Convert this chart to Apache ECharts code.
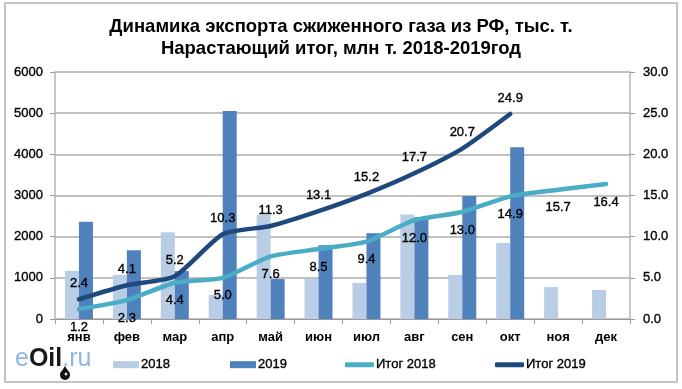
<!DOCTYPE html>
<html><head><meta charset="utf-8">
<style>html,body{margin:0;padding:0;background:#fff}#c{width:682px;height:389px}</style>
<script src="https://cdn.jsdelivr.net/npm/echarts@6/dist/echarts.min.js"></script>
</head><body><div id="c"></div>
<script>
const months = ['янв','фев','мар','апр','май','июн','июл','авг','сен','окт','ноя','дек'];
const export2018 = [1170,1070,2105,585,2525,970,875,2540,1070,1845,775,705];
const export2019 = [2365,1670,1165,5050,970,1790,2080,2480,2990,4170,null,null];
const total2018 = [1.2,2.3,4.4,5.0,7.6,8.5,9.4,12.0,13.0,14.9,15.7,16.4];
const total2019 = [2.4,4.1,5.2,10.3,11.3,13.1,15.2,17.7,20.7,24.9,null,null];

const family='Liberation Sans, Arial, sans-serif';
const numFont = {fontFamily:family,fontWeight:'normal',color:'#000',fontSize:13,textBorderColor:'#000',textBorderWidth:0.35};
const boldFont = {fontFamily:family,fontWeight:'bold',color:'#000',fontSize:13};
const chart = echarts.init(document.getElementById('c'),null,{renderer:'canvas'});
const lineSeries=(name,data,color,pos,dist)=>({
  name,type:'line',yAxisIndex:1,data,smooth:0.2,showSymbol:true,symbol:'circle',symbolSize:1,
  lineStyle:{color,width:4.5,cap:'round'},itemStyle:{color},z:5,
  label:{show:true,position:pos,distance:dist,formatter:p=>p.value==null?'':p.value.toFixed(1),...numFont}
});
const legendAt=(name,left,icon,w,h)=>({
  show:true,data:[{name,icon}],left,top:358,itemWidth:w,itemHeight:h,itemGap:0,padding:0,
  textStyle:{...numFont,padding:[0,0,0,-3]}
});
chart.setOption({
  animation:false,
  backgroundColor:'#fff',
  title:{
    text:'Динамика экспорта сжиженного газа из РФ, тыс. т.\nНарастающий итог, млн т. 2018-2019год',
    left:336,top:11,textAlign:'center',
    textStyle:{fontFamily:family,fontWeight:'bold',fontSize:18.5,lineHeight:22,color:'#000'}
  },
  legend:[
    legendAt('2018',113,'rect',26,7),legendAt('2019',230,'rect',26,7),
    legendAt('Итог 2018',345,'roundRect',29,5),legendAt('Итог 2019',495,'roundRect',29,5)
  ],
  grid:{left:55,right:52,top:72,bottom:70},
  xAxis:{type:'category',data:months,
    axisLine:{lineStyle:{color:'#9a9a9a',width:1}},
    axisTick:{show:true,length:5,lineStyle:{color:'#9a9a9a'}},
    axisLabel:{...boldFont,margin:12,interval:0}},
  yAxis:[
    {type:'value',min:0,max:6000,interval:1000,
      axisLine:{show:true,lineStyle:{color:'#b5b5b5',width:1.5}},axisTick:{show:true,length:5,lineStyle:{color:'#9a9a9a'}},
      axisLabel:{...numFont,margin:12,formatter:v=>String(v)},
      splitLine:{lineStyle:{color:'#adadad',width:1.5}}},
    {type:'value',min:0,max:30,interval:5,position:'right',
      axisLine:{show:true,lineStyle:{color:'#b5b5b5',width:1.5}},axisTick:{show:true,length:5,lineStyle:{color:'#9a9a9a'}},
      axisLabel:{...numFont,margin:13,formatter:v=>v.toFixed(1)},
      splitLine:{show:false}}
  ],
  series:[
    {name:'2018',type:'bar',data:export2018,barWidth:14,barGap:'0%',itemStyle:{color:'#b9cde5'},z:2},
    {name:'2019',type:'bar',data:export2019,barWidth:14,barGap:'0%',itemStyle:{color:'#4f81bd'},z:2},
    lineSeries('Итог 2018',total2018,'#4bacc6','bottom',11),
    lineSeries('Итог 2019',total2019,'#1f497d','top',9)
  ],
  graphic:[
    {type:'rect',shape:{x:5,y:3,width:672,height:379},style:{fill:'none',stroke:'#c4c4c4',lineWidth:2},silent:true,z:-1},
    {type:'text',left:15,top:347,style:{
      text:'{a|e}{b|Oil}{a|.ru}',
      rich:{a:{fontFamily:family,fontSize:25,fill:'#8db8dc',fontWeight:'normal'},
            b:{fontFamily:family,fontSize:25,fill:'#1a1a1a',fontWeight:'bold'}}}},
    {type:'circle',shape:{cx:65,cy:375,r:5},style:{fill:'#111'},silent:true},
    {type:'polygon',shape:{points:[[60,374],[65,366],[70,374]]},style:{fill:'#111'},silent:true},
    {type:'circle',shape:{cx:66,cy:374,r:1.5},style:{fill:'#ddd'},silent:true}
  ]
});
</script></body></html>
